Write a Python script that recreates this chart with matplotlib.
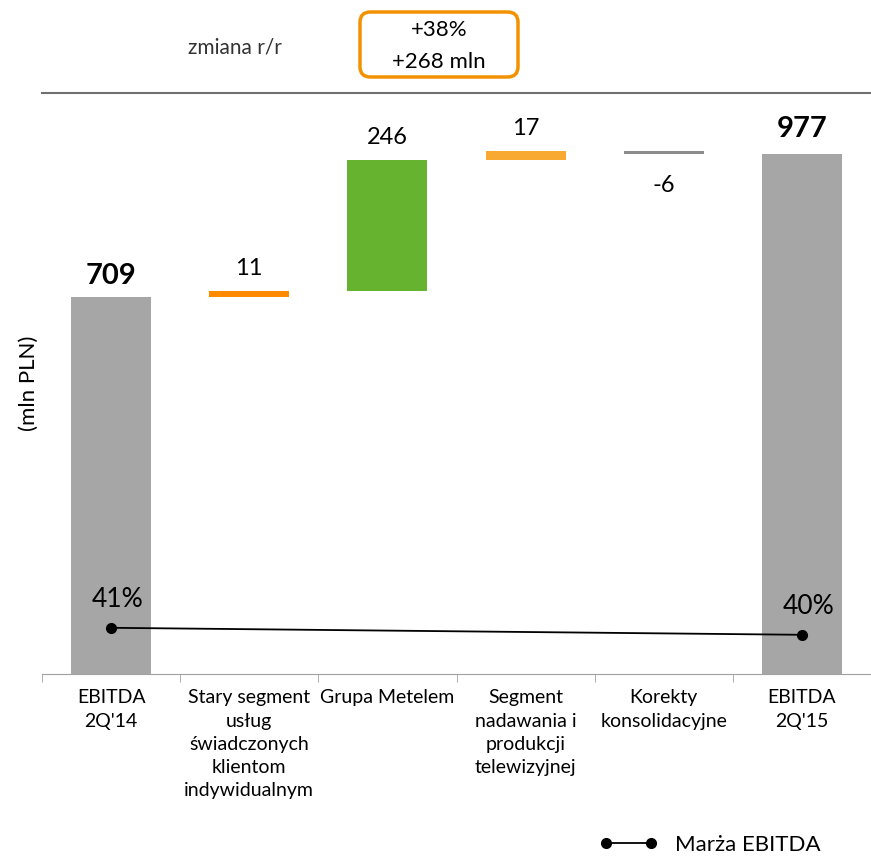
# Waterfall chart of EBITDA change 2Q'14 -> 2Q'15 with EBITDA margin line

import matplotlib
matplotlib.use("Agg")
import matplotlib.pyplot as plt
from matplotlib.lines import Line2D
from matplotlib.patches import FancyBboxPatch

plt.rcParams['font.family'] = ['Lato', 'DejaVu Sans']

# data
categories = ["EBITDA\n2Q'14",
              "Stary segment\nusług\nświadczonych\nklientom\nindywidualnym",
              "Grupa Metelem",
              "Segment\nnadawania i\nprodukcji\ntelewizyjnej",
              "Korekty\nkonsolidacyjne",
              "EBITDA\n2Q'15"]
start_value = 709
changes = [11, 246, 17, -6]
end_value = 977
change_colors = ["#FF8A00", "#65B32E", "#F8A932", "#8C8C8C"]
margin_pos = [0, 5]
margin_vals = [0.41, 0.40]
margin_labels = ["41%", "40%"]

fig = plt.figure(figsize=(8.71, 8.56), dpi=100)
ax = fig.add_axes([42/871, 1-674/856, 1-42/871, (674-93)/856])

w = 0.58
# totals
ax.bar(0, start_value, width=w, color="#A6A6A6")
ax.bar(5, end_value, width=w, color="#A6A6A6")
ax.text(0, start_value + 14, str(start_value), ha='center', va='bottom',
        fontsize=21, fontweight='bold')
ax.text(5, end_value + 22, str(end_value), ha='center', va='bottom',
        fontsize=21, fontweight='bold')

# floating change bars
level = start_value
for i, c in enumerate(changes):
    x = i + 1
    bottom = level if c >= 0 else level + c
    ax.bar(x, abs(c), bottom=bottom, width=w, color=change_colors[i])
    if c >= 0:
        ax.text(x, level + c + 22, str(c), ha='center', va='bottom', fontsize=17)
    else:
        ax.text(x, level + c - 40, str(c), ha='center', va='top', fontsize=17)
    level += c

ax.set_xlim(-0.5, 5.5)
ax.set_ylim(0, 1092)
ax.set_yticks([])
for s in ['top', 'right', 'left']:
    ax.spines[s].set_visible(False)
ax.spines['bottom'].set_color('#A0A0A0')
ax.set_xticks(range(len(categories)))
ax.set_xticklabels(categories, fontsize=14, linespacing=1.45, va='top')
ax.tick_params(axis='x', which='major', length=0, pad=11)
ax.set_xticks([i - 0.5 for i in range(len(categories) + 1)], minor=True)
ax.tick_params(axis='x', which='minor', length=6, color='#A0A0A0', direction='out')
ax.set_ylabel("(mln PLN)", fontsize=16, labelpad=2)

# margin line on secondary axis
ax2 = ax.twinx()
ax2.plot(margin_pos, margin_vals, color='black', lw=1.3, marker='o', markersize=7)
ax2.set_ylim(0.344, 1.174)
ax2.set_yticks([])
for s in ax2.spines.values():
    s.set_visible(False)
for x, v, lab in zip(margin_pos, margin_vals, margin_labels):
    ax2.text(x + 0.05, v + 0.022, lab, ha='center', va='bottom', fontsize=19)

# header
fig.add_artist(Line2D([42/871, 1.0], [1-93/856, 1-93/856], color='#707070', lw=1.5))
fig.text(235/871, 1-47/856, "zmiana r/r", ha='center', va='center',
         fontsize=15, color='#333333')
box = FancyBboxPatch((360/871, 1-77/856), 158/871, 65/856,
                     boxstyle="round,pad=0,rounding_size=0.012",
                     transform=fig.transFigure, facecolor='white',
                     edgecolor='#F39200', lw=2.5)
fig.add_artist(box)
fig.text(439/871, 1-30/856, "+38%", ha='center', va='center', fontsize=16)
fig.text(439/871, 1-62/856, "+268 mln", ha='center', va='center', fontsize=16)

# legend
fig.add_artist(Line2D([606/871, 651/871], [1-843/856, 1-843/856], color='black',
                      lw=1.3, marker='o', markersize=7))
fig.text(675/871, 1-845/856, "Marża EBITDA", ha='left', va='center', fontsize=16)

fig.savefig("out.png", dpi=100)
